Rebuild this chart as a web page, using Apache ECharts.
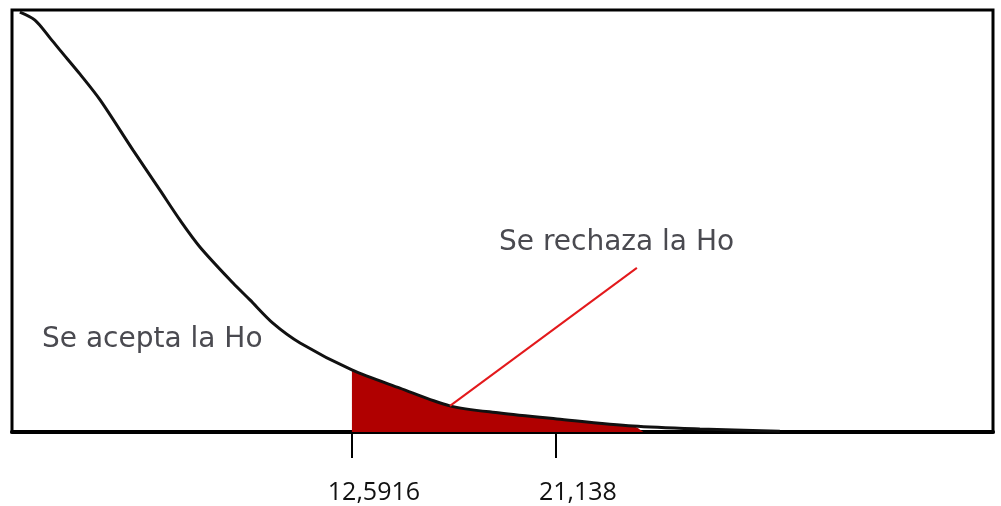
<!DOCTYPE html>
<html>
<head>
<meta charset="utf-8">
<script src="https://cdn.jsdelivr.net/npm/echarts@6/dist/echarts.min.js"></script>
<style>
  html, body { margin: 0; padding: 0; background: #fff; }
  #chart { width: 1001px; height: 506px; }
</style>
</head>
<body>
<div id="chart"></div>
<script>
// curve (x in axis units, y in relative height 0..100)
var curveX = [-1.32, -0.69, -0.06, 0.36, 1.20, 2.04, 3.42, 4.55, 5.39, 6.23, 7.61, 8.32, 9.28, 10.42, 12.59, 14.60, 16.70, 18.79, 21.18, 24.37, 27.17, 30.52];
var curveY = [99.5, 97.6, 93.4, 90.5, 84.8, 78.7, 66.8, 57.3, 50.2, 43.8, 35.3, 31.3, 25.8, 21.1, 14.7, 10.4, 6.2, 4.5, 3.1, 1.4, 0.7, 0.2];

// rejection region
var rejectX = [12.5916, 14.60, 16.70, 18.79, 21.18, 24.37, 24.8];
var rejectY = [14.7, 10.4, 6.2, 4.5, 3.1, 1.4, 0];

// pointer line from the shaded area to its label
var pointerX = [16.70, 24.53];
var pointerY = [6.2, 38.9];

var tickValues = [12.5916, 21.138];
var tickLabels = ['12,5916', '21,138'];

var zip = function (xs, ys) { return xs.map(function (x, i) { return [x, ys[i]]; }); };

var myChart = echarts.init(document.getElementById('chart'));

var option = {
    animation: false,
    grid: {
        left: 12, right: 8, top: 10, bottom: 74,
        show: true, borderColor: '#000', borderWidth: 3
    },
    xAxis: {
        type: 'value',
        min: -1.65,
        max: 39.45,
        splitLine: { show: false },
        axisLine: { show: true, lineStyle: { color: '#000', width: 4 } },
        axisTick: {
            show: true, customValues: tickValues, length: 26, inside: false,
            lineStyle: { color: '#000', width: 2 }
        },
        axisLabel: {
            customValues: tickValues,
            formatter: function (v) { return tickLabels[tickValues.indexOf(v)]; },
            margin: 48,
            padding: [0, 0, 0, 44],
            color: '#111',
            fontSize: 25,
            fontFamily: 'Open Sans, sans-serif'
        }
    },
    yAxis: {
        type: 'value',
        min: 0, max: 100,
        show: false,
        splitLine: { show: false }
    },
    graphic: [
        {
            type: 'text', left: 499, top: 229,
            style: { text: 'Se rechaza la Ho', fontSize: 28, fill: '#4a4a50', fontFamily: 'DejaVu Sans, sans-serif' }
        },
        {
            type: 'text', left: 42, top: 326,
            style: { text: 'Se acepta la Ho', fontSize: 28, fill: '#4a4a50', fontFamily: 'DejaVu Sans, sans-serif' }
        }
    ],
    series: [
        {
            type: 'line',
            data: zip(rejectX, rejectY),
            smooth: 0.3,
            symbol: 'none',
            lineStyle: { width: 0 },
            areaStyle: { color: '#b00000', opacity: 1 },
            z: 1
        },
        {
            type: 'line',
            data: zip(curveX, curveY),
            smooth: 0.3,
            symbol: 'none',
            lineStyle: { color: '#111', width: 3 },
            z: 3
        },
        {
            type: 'line',
            data: zip(pointerX, pointerY),
            symbol: 'none',
            lineStyle: { color: '#e3191c', width: 2 },
            z: 4
        }
    ]
};

option && myChart.setOption(option);
</script>
</body>
</html>
